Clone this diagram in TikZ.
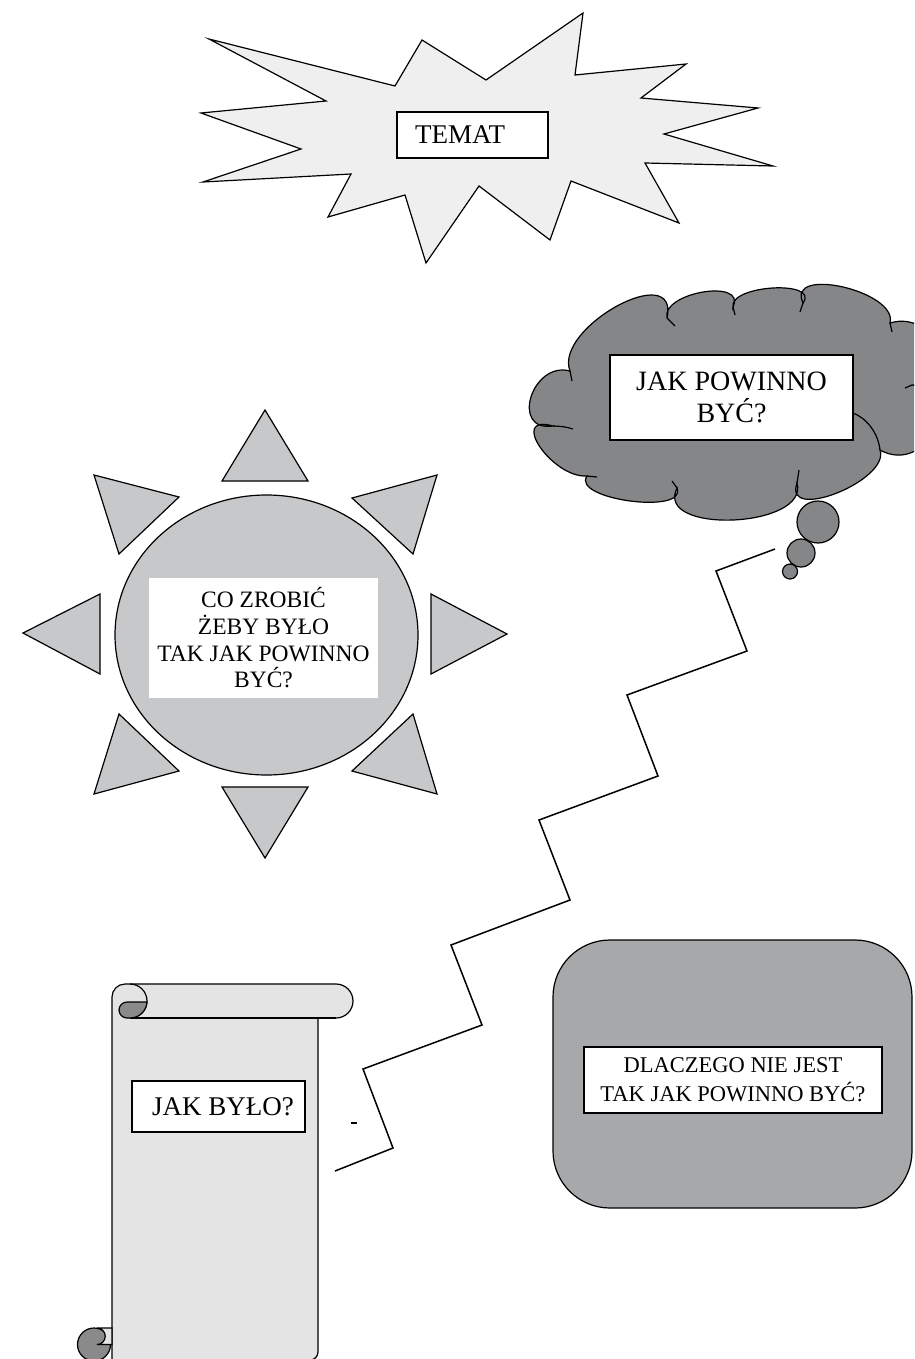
\documentclass[tikz,border=0pt]{standalone}
\usepackage{fontspec}
\setmainfont{Liberation Serif}
\definecolor{starfill}{HTML}{EFEFEF}
\definecolor{sunfill}{HTML}{C7C8CA}
\definecolor{cloudfill}{HTML}{858688}
\definecolor{rrfill}{HTML}{A7A8AA}
\definecolor{scrollfill}{HTML}{E4E4E4}
\definecolor{curlfill}{HTML}{8A8A8A}
\begin{document}
\begin{tikzpicture}[x=1pt,y=-1pt,line join=miter,
  outl/.style={draw=black,line width=1.2pt},
  box/.style={draw=black,fill=white,line width=1.2pt,inner sep=0pt,align=center},
  zig/.style={draw=black,line width=1.5pt}]
\useasboundingbox (0,0) rectangle (914,1359);
\fill[white] (0,0) rectangle (914,1359);
\clip (0,0) rectangle (914,1359);

% ---------- star (TEMAT) ----------
\filldraw[starfill,outl] (209,39) -- (395,86) -- (422,40) -- (486,80) -- (583,13) -- (575,75)
  -- (686,64) -- (641,98) -- (758,108) -- (664,134) -- (773,166) -- (645,163)
  -- (679,223) -- (571,181) -- (550,240) -- (479,186) -- (426,263) -- (405,195)
  -- (328,217) -- (351,174) -- (203,182) -- (301,149) -- (201,113) -- (326,101) -- cycle;
\node[box,minimum width=151pt,minimum height=46pt,text width=115pt,align=left,inner xsep=18pt,
  font=\fontsize{27}{32}\selectfont] (temat) at (472.5,135) {TEMAT};

% ---------- cloud ----------
\filldraw[cloudfill,outl] (553,426)
  .. controls (509.75,432.25) and (531.85,360.75) .. (570,371)
  .. controls (553.45,327.65) and (679.55,258.75) .. (667,318)
  .. controls (661.1,292.35) and (746.9,278.05) .. (733,307)
  .. controls (729.2,284.9) and (820.2,279.7) .. (803,303)
  .. controls (785.25,265.3) and (898.35,291.3) .. (890,323)
  .. controls (938.7,308.4) and (967.3,389) .. (912,385)
  .. controls (968.8,391.95) and (927.2,476.45) .. (880,450)
  .. controls (890.45,480.35) and (782.55,523.25) .. (797,483)
  .. controls (809.7,528.25) and (653.7,534.75) .. (677,488)
  .. controls (687.8,515.1) and (570.8,499.5) .. (587,476)
  .. controls (552.1,478.2) and (507.9,413.2) .. (553,426) -- cycle;
\draw[line width=1.2pt] (553,426) .. controls (560,426) and (567,427) .. (573,429);
\draw[line width=1.2pt] (570,371) -- (572,381);
\draw[line width=1.2pt] (667,318) -- (675,326);
\draw[line width=1.2pt] (733,307) -- (735,315);
\draw[line width=1.2pt] (803,303) -- (800,312);
\draw[line width=1.2pt] (890,323) -- (892,332);
\draw[line width=1.2pt] (912,385) -- (905,388);
\draw[line width=1.2pt] (880,450) .. controls (878,432) and (866,418) .. (853,413);
\draw[line width=1.2pt] (797,483) -- (799,470);
\draw[line width=1.2pt] (677,488) -- (672,481);
\draw[line width=1.2pt] (587,476) -- (597,477);
\node[box,minimum width=243pt,minimum height=85pt,font=\fontsize{28}{31.7}\selectfont]
  (jak) at (731.5,397.5) {JAK POWINNO\\BYĆ?};
\filldraw[cloudfill,outl] (818,522) circle[radius=21];
\filldraw[cloudfill,outl] (801,553) circle[radius=14];
\filldraw[cloudfill,outl] (790,571.5) circle[radius=7.5];

% ---------- sun ----------
\filldraw[sunfill,outl] (266.5,635) ellipse[x radius=151.5,y radius=140];
\filldraw[sunfill,outl] (265,410) -- (308,481) -- (222,481) -- cycle;
\filldraw[sunfill,outl] (265,858) -- (308,787) -- (222,787) -- cycle;
\filldraw[sunfill,outl] (23,633) -- (100,594) -- (100,674) -- cycle;
\filldraw[sunfill,outl] (507,634) -- (431,594) -- (431,674) -- cycle;
\filldraw[sunfill,outl] (94,475) -- (179,497) -- (119,554) -- cycle;
\filldraw[sunfill,outl] (437,475) -- (352,498) -- (413,554) -- cycle;
\filldraw[sunfill,outl] (119,714) -- (179,771) -- (94,794) -- cycle;
\filldraw[sunfill,outl] (413,714) -- (352,771) -- (437,794) -- cycle;
\node[fill=white,minimum width=229pt,minimum height=120pt,inner sep=0pt,align=center,
  font=\fontsize{23.5}{26.7}\selectfont] (co) at (263.5,638)
  {CO ZROBIĆ\\ŻEBY BYŁO\\TAK JAK POWINNO\\BYĆ?};

% ---------- rounded rectangle ----------
\node[draw=black,fill=rrfill,line width=1.2pt,rounded corners=57pt,minimum width=359pt,
  minimum height=268pt,inner sep=0pt] (rr) at (732.5,1074) {};
\node[box,minimum width=298pt,minimum height=66pt,font=\fontsize{22.5}{29}\selectfont]
  (dl) at (733,1080) {DLACZEGO NIE JEST\\TAK JAK POWINNO BYĆ?};

% ---------- scroll ----------
\filldraw[scrollfill,outl] (112,1362) -- (112,997) arc[start angle=180,end angle=270,radius=13]
  -- (336,984) arc[start angle=270,end angle=450,radius=17] -- (318,1018) -- (318,1352)
  arc[start angle=0,end angle=90,radius=8] -- cycle;
\draw[line width=1.2pt] (130,984) arc[start angle=270,end angle=450,radius=17];
\draw[line width=1.2pt] (130,1018) -- (336,1018);
\filldraw[curlfill,outl] (127,1002) -- (147,1002) arc[start angle=3.4,end angle=90,radius=17]
  -- (127,1018) arc[start angle=90,end angle=270,radius=8] -- cycle;
\filldraw[curlfill,outl] (94,1344.5) circle[radius=16.5];
\filldraw[scrollfill,outl] (112,1328) -- (97,1328) arc[start angle=-90,end angle=90,radius=8.25]
  -- (112,1344.5) -- cycle;
\node[box,minimum width=173pt,minimum height=51pt,
  font=\fontsize{27}{32}\selectfont] (jb) at (218.5,1106.5) {\hspace*{9pt}JAK BYŁO?};

% ---------- zigzag ----------
\coordinate (z1) at (335,1171);
\coordinate (z2) at (393,1148);
\coordinate (z3) at (363,1069);
\coordinate (z4) at (482,1025);
\coordinate (z5) at (451,945);
\coordinate (z6) at (570,900);
\coordinate (z7) at (539,820);
\coordinate (z8) at (658,776);
\coordinate (z9) at (627,695);
\coordinate (z10) at (747,651);
\coordinate (z11) at (716,571);
\coordinate (z12) at (775,549);
\draw[zig] (z1) -- (z2) -- (z3) -- (z4) -- (z5) -- (z6) -- (z7) -- (z8) -- (z9) -- (z10) -- (z11) -- (z12);
\coordinate (d1) at (351,1123);
\coordinate (d2) at (357,1123);
\draw[line width=1.2pt] (d1) -- (d2);
\end{tikzpicture}
\end{document}
